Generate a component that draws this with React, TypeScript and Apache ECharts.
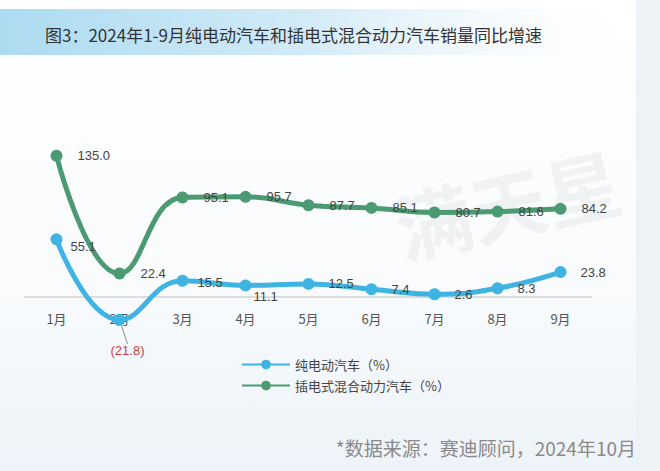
import React, { useEffect, useRef } from "react";
import * as echarts from "echarts";

const months = ["1月", "2月", "3月", "4月", "5月", "6月", "7月", "8月", "9月"];
const evGrowth = [55.1, -21.8, 15.5, 11.1, 12.5, 7.4, 2.6, 8.3, 23.8];
const phevGrowth = [135.0, 22.4, 95.1, 95.7, 87.7, 85.1, 80.7, 81.6, 84.2];
const evName = "纯电动汽车（%）";
const phevName = "插电式混合动力汽车（%）";
const titleText = "图3：2024年1-9月纯电动汽车和插电式混合动力汽车销量同比增速";
const sourceText = "*数据来源：赛迪顾问，2024年10月";

const FONT = "'Noto Sans CJK SC', 'Liberation Sans', sans-serif";
const EV_COLOR = "#3fb4e2";
const PHEV_COLOR = "#4b9a72";

export default function App() {
  const ref = useRef<HTMLDivElement>(null);
  useEffect(() => {
    if (!ref.current) return;
    const chart = echarts.init(ref.current, undefined, { renderer: "svg" });
    const fmt = (v: number) => (v < 0 ? `(${Math.abs(v).toFixed(1)})` : v.toFixed(1));
    const evData = evGrowth.map((v) => {
      if (v < 0) {
        return {
          value: v,
          label: { position: "bottom", distance: 2, color: "#d0393e" },
          labelLine: { show: true, length2: 0, lineStyle: { color: "#8a8a8a", width: 1 } },
        };
      }
      return { value: v };
    });
    const evLabelShift: Record<number, { dx: number; dy: number }> = {
      0: { dx: -6, dy: 7 },
      1: { dx: 8, dy: 16 },
      2: { dx: -5, dy: 2 },
      3: { dx: -12, dy: 11 },
    };
    chart.setOption({
      animation: false,
      backgroundColor: {
        type: "linear", x: 0, y: 0, x2: 0, y2: 1,
        colorStops: [
          { offset: 0, color: "#ffffff" },
          { offset: 0.6, color: "#f9fbfd" },
          { offset: 1, color: "#edf3f8" },
        ],
      },
      graphic: [
        {
          type: "rect", left: 636, top: 0, z: -1,
          shape: { width: 24, height: 471 },
          style: { fill: "#edf2f7" },
        },
        {
          type: "rect", left: 0, top: 9, z: -1,
          shape: { width: 620, height: 46 },
          style: {
            fill: {
              type: "linear", x: 0, y: 0, x2: 1, y2: 0,
              colorStops: [
                { offset: 0, color: "#acdbf0" },
                { offset: 0.5, color: "#d3ebf7" },
                { offset: 1, color: "rgba(245,249,252,0)" },
              ],
            },
          },
        },
        {
          type: "text", left: 388, top: 140, rotation: 0.22, z: 0,
          style: { text: "满天星", font: `bold 76px ${FONT}`, fill: "rgba(0,0,0,0.045)" },
        },
      ],
      title: [
        {
          text: titleText, left: 40, top: 21,
          textStyle: { fontFamily: FONT, fontSize: 17, fontWeight: "normal", color: "#333" },
        },
        {
          text: sourceText, right: 19, top: 433,
          textStyle: { fontFamily: FONT, fontSize: 19, fontWeight: "normal", color: "#8a8a8a" },
        },
      ],
      legend: {
        orient: "vertical", left: 236, top: 353,
        itemWidth: 48, itemHeight: 12, itemGap: 8,
        textStyle: { fontFamily: FONT, fontSize: 13, color: "#444" },
        data: [evName, phevName],
      },
      grid: { left: 25, right: 68, top: 140, bottom: 174 },
      xAxis: {
        type: "category", data: months, boundaryGap: true,
        axisLine: { onZero: false, lineStyle: { color: "#d2d2d2", width: 1.5 } },
        axisTick: { show: false },
        axisLabel: { fontFamily: FONT, fontSize: 13, color: "#555", margin: 15 },
      },
      yAxis: {
        type: "value", min: 0, max: 150, show: false,
        splitLine: { show: false },
      },
      series: [
        {
          name: evName, type: "line", smooth: 0.45, data: evData, clip: false,
          symbol: "circle", symbolSize: 12,
          lineStyle: { width: 5, color: EV_COLOR }, itemStyle: { color: EV_COLOR },
          label: {
            show: true, position: "right", distance: 14,
            fontFamily: "'Liberation Sans', sans-serif", fontSize: 13, color: "#444",
            formatter: (p: any) => fmt(p.value),
          },
          labelLayout: (p: any) => evLabelShift[p.dataIndex] || {},
          z: 3,
        },
        {
          name: phevName, type: "line", smooth: 0.45, data: phevGrowth, clip: false,
          symbol: "circle", symbolSize: 12,
          lineStyle: { width: 5, color: PHEV_COLOR }, itemStyle: { color: PHEV_COLOR },
          label: {
            show: true, position: "right", distance: 15,
            fontFamily: "'Liberation Sans', sans-serif", fontSize: 13, color: "#444",
            formatter: (p: any) => fmt(p.value),
          },
          z: 3,
        },
      ],
    });
    return () => chart.dispose();
  }, []);
  return (
    <div
      ref={ref}
      style={{ position: "fixed", left: 0, top: 0, width: 660, height: 471 }}
    />
  );
}
